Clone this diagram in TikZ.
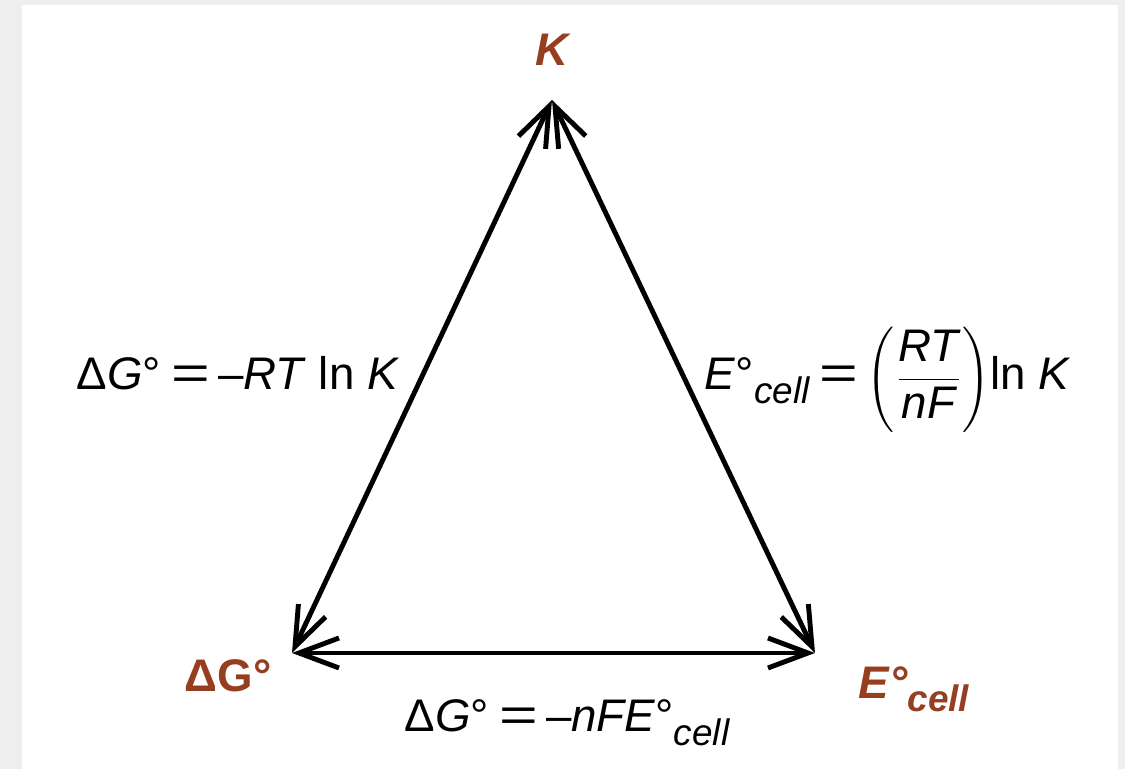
\documentclass[tikz,border=0pt]{standalone}
\usepackage{fontspec}
\setmainfont{Liberation Sans}
\usetikzlibrary{arrows.meta}
\definecolor{labelbrown}{RGB}{150,62,32}
\definecolor{framegray}{RGB}{238,238,238}
\newcommand{\cellsub}{\raisebox{-0.55ex}{\fontsize{10.5}{12}\selectfont\itshape cell}}
\newcommand{\eqsign}{\hspace{0.22em}\scalebox{1.45}[1.05]{=}\hspace{0.18em}}

\begin{document}
\begin{tikzpicture}[x=1cm,y=1cm,
  font=\fontsize{13}{15}\selectfont,
  link/.style={line width=1.4pt, {Straight Barb[length=4mm,width=3mm]}-{Straight Barb[length=4mm,width=3mm]}},
  corner/.style={font=\fontsize{13}{15}\selectfont\bfseries, text=labelbrown}]
% geometry: 1 px of the 1125x769 frame = 0.01cm, y upwards
% ---- frame ----
\fill[framegray] (0,0) rectangle (11.25,7.69);
\fill[white] (0.22,0) rectangle (11.18,7.64);
\useasboundingbox (0,0) rectangle (11.25,7.69);

% ---- corners of the triangle ----
\coordinate (top) at (5.52,6.69);
\coordinate (left) at (2.92,1.16);
\coordinate (right) at (8.15,1.16);

\node[corner] (kcorner) at (5.52,7.19) {\itshape K};
\node[corner] (gcorner) at (2.28,0.93) {ΔG°};
\node[corner] (ecorner) at (9.14,0.80) {\itshape E°\cellsub};

% ---- arrows ----
\draw[link] (top) -- (left);
\draw[link] (top) -- (right);
\draw[link] (left) -- (right);

% ---- relations ----
\node[anchor=base] (leftrel) at (2.38,3.79) {Δ\textit{G}°\eqsign–\textit{RT} ln \textit{K}};
\node[anchor=base, inner sep=1pt] (rightrel) at (8.88,3.79)
  {\textit{E}°\cellsub\eqsign$\displaystyle\left(\frac{\hbox{\itshape RT}}{\hbox{\itshape nF}}\right)$ln \textit{K}};
\node[anchor=base] (bottomrel) at (5.67,0.37) {Δ\textit{G}°\eqsign–\textit{nFE}°\cellsub};
\end{tikzpicture}
\end{document}
